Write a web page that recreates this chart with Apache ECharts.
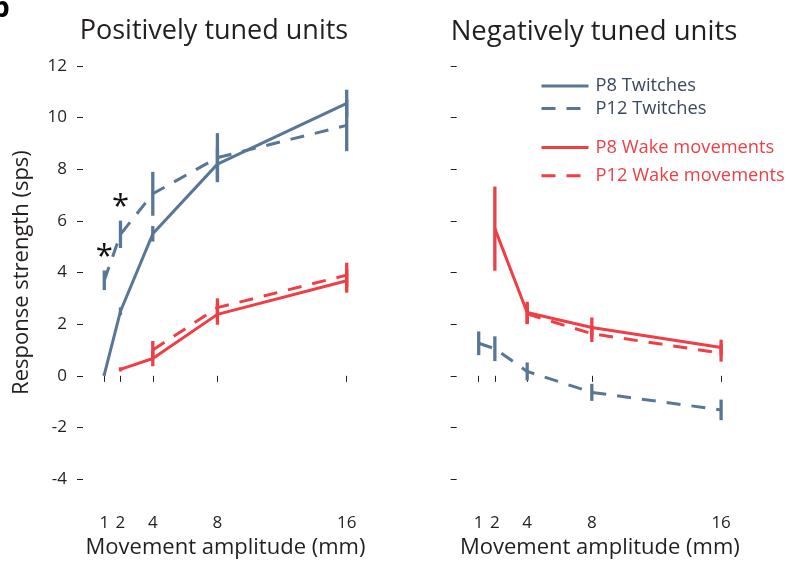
<!DOCTYPE html>
<html>
<head>
<meta charset="utf-8">
<title>Response strength by movement amplitude</title>
<script src="https://cdn.jsdelivr.net/npm/echarts@6/dist/echarts.min.js"></script>
<style>
  html, body { margin: 0; padding: 0; background: #ffffff; }
  #chart { width: 787px; height: 564px; }
</style>
</head>
<body>
<div id="chart"></div>
<script>
// Axis setup
const amplitudeTicks = [1, 2, 4, 8, 16];
const yMin = -4;
const yMax = 12;
const yStep = 2;

// Each row: [amplitude (mm), mean response (sps), SEM]
// Positively tuned units
const posP8Twitches = [[1, 0.05, 0.05], [2, 2.5, 0.15], [4, 5.5, 0.3], [8, 8.2, 0.65], [16, 10.55, 0.53]];
const posP12Twitches = [[1, 3.7, 0.38], [2, 5.48, 0.53], [4, 7.05, 0.85], [8, 8.45, 0.95], [16, 9.7, 1.0]];
const posP8Wake = [[2, 0.25, 0.08], [4, 0.67, 0.3], [8, 2.38, 0.4], [16, 3.68, 0.46]];
const posP12Wake = [[4, 1.0, 0.35], [8, 2.64, 0.36], [16, 3.9, 0.48]];

// Negatively tuned units
const negP12Twitches = [[1, 1.26, 0.46], [2, 1.05, 0.48], [4, 0.17, 0.35], [8, -0.64, 0.33], [16, -1.32, 0.4]];
const negP8Wake = [[2, 5.7, 1.63], [4, 2.45, 0.42], [8, 1.87, 0.39], [16, 1.1, 0.3]];
const negP12Wake = [[4, 2.4, 0.4], [8, 1.63, 0.32], [16, 0.88, 0.33]];

// Significance markers (P8 vs P12 twitches)
const asteriskPoints = [[1, 4.92], [2, 6.85]];

const BLUE = '#587695';
const RED = '#ee3e46';
const INK = '#231f20';
const FONT = 'Open Sans';
const DASH = [14, 11];

function lineSeries(name, data, gridIdx, color, dashed) {
  return {
    name: name,
    type: 'line',
    xAxisIndex: gridIdx,
    yAxisIndex: gridIdx,
    data: data.map(d => [d[0], d[1]]),
    symbol: 'none',
    silent: true,
    animation: false,
    lineStyle: { color: color, width: 3, type: dashed ? DASH : 'solid', cap: 'butt' },
    itemStyle: { color: color },
    z: 3
  };
}

function errorSeries(name, data, gridIdx, color) {
  return {
    name: name + ' SEM',
    type: 'custom',
    xAxisIndex: gridIdx,
    yAxisIndex: gridIdx,
    data: data,
    encode: { x: 0, y: 1 },
    silent: true,
    animation: false,
    renderItem: function (params, api) {
      const x = api.value(0), y = api.value(1), e = api.value(2);
      const hi = api.coord([x, y + e]);
      const lo = api.coord([x, y - e]);
      return {
        type: 'line',
        shape: { x1: hi[0], y1: hi[1], x2: lo[0], y2: lo[1] },
        style: { stroke: color, lineWidth: 3.3 }
      };
    },
    z: 4
  };
}

function xAxisFor(gridIdx) {
  return {
    gridIndex: gridIdx,
    type: 'value',
    min: 1,
    max: 16,
    offset: 19,
    name: 'Movement amplitude (mm)',
    nameLocation: 'middle',
    nameGap: 38,
    nameTextStyle: { fontFamily: FONT, fontSize: 22, color: INK },
    axisLine: { show: false },
    splitLine: { show: false },
    axisTick: { show: true, customValues: amplitudeTicks, length: 6, lineStyle: { color: INK, width: 1 } },
    axisLabel: { show: true, customValues: amplitudeTicks, margin: 17, fontFamily: FONT, fontSize: 17, color: INK }
  };
}

function yAxisFor(gridIdx, showLabels) {
  return {
    gridIndex: gridIdx,
    type: 'value',
    min: yMin,
    max: yMax,
    interval: yStep,
    offset: gridIdx === 0 ? 21.3 : 22,
    name: showLabels ? 'Response strength (sps)' : '',
    nameLocation: 'middle',
    nameGap: 50,
    nameTextStyle: { fontFamily: FONT, fontSize: 22, color: INK },
    axisLine: { show: false },
    splitLine: { show: false },
    axisTick: { show: true, length: 6, lineStyle: { color: INK, width: 1 } },
    axisLabel: { show: showLabels, margin: 16, fontFamily: FONT, fontSize: 17, color: INK }
  };
}

const legendCommon = {
  orient: 'vertical',
  left: 540,
  padding: 0,
  itemWidth: 47,
  itemHeight: 14,
  selectedMode: false,
  itemStyle: { color: 'transparent', borderWidth: 0, opacity: 0 },
  lineStyle: { width: 3 }
};

const chart = echarts.init(document.getElementById('chart'), null, { renderer: 'canvas' });

const option = {
  animation: false,
  backgroundColor: '#ffffff',
  textStyle: { fontFamily: FONT },
  title: [
    { text: 'Positively tuned units', left: 209, top: 13, textAlign: 'center',
      textStyle: { fontFamily: FONT, fontSize: 27, fontWeight: 'normal', color: INK } },
    { text: 'Negatively tuned units', left: 589, top: 13, textAlign: 'center',
      textStyle: { fontFamily: FONT, fontSize: 27.5, fontWeight: 'normal', color: INK } }
  ],
  legend: [
    Object.assign({}, legendCommon, {
      data: ['P8 Twitches', 'P12 Twitches'],
      top: 77,
      itemGap: 4.5,
      textStyle: { fontFamily: FONT, fontSize: 18.3, color: '#3a4a5e', padding: [0, 0, 0, 2] }
    }),
    Object.assign({}, legendCommon, {
      data: ['P8 Wake movements', 'P12 Wake movements'],
      top: 138.5,
      itemGap: 10.3,
      textStyle: { fontFamily: FONT, fontSize: 18.3, color: RED, padding: [0, 0, 0, 2] }
    })
  ],
  grid: [
    { left: 104.3, width: 242.4, top: 66, height: 416 },
    { left: 478.7, width: 242.4, top: 66, height: 416 }
  ],
  xAxis: [xAxisFor(0), xAxisFor(1)],
  yAxis: [yAxisFor(0, true), yAxisFor(1, false)],
  graphic: [
    { type: 'text', left: -8, top: -5,
      style: { text: 'b', fontFamily: FONT, fontSize: 28, fontWeight: 'bold', fill: '#000' } }
  ],
  series: [
    lineSeries('P8 Twitches', posP8Twitches, 0, BLUE, false),
    lineSeries('P12 Twitches', posP12Twitches, 0, BLUE, true),
    lineSeries('P8 Wake movements', posP8Wake, 0, RED, false),
    lineSeries('P12 Wake movements', posP12Wake, 0, RED, true),
    lineSeries('P12 Twitches', negP12Twitches, 1, BLUE, true),
    lineSeries('P8 Wake movements', negP8Wake, 1, RED, false),
    lineSeries('P12 Wake movements', negP12Wake, 1, RED, true),
    errorSeries('P8 Twitches', posP8Twitches, 0, BLUE),
    errorSeries('P12 Twitches', posP12Twitches, 0, BLUE),
    errorSeries('P8 Wake movements', posP8Wake, 0, RED),
    errorSeries('P12 Wake movements', posP12Wake, 0, RED),
    errorSeries('P12 Twitches', negP12Twitches, 1, BLUE),
    errorSeries('P8 Wake movements', negP8Wake, 1, RED),
    errorSeries('P12 Wake movements', negP12Wake, 1, RED),
    {
      name: 'significance',
      type: 'custom',
      xAxisIndex: 0,
      yAxisIndex: 0,
      data: asteriskPoints,
      encode: { x: 0, y: 1 },
      silent: true,
      renderItem: function (params, api) {
        const p = api.coord([api.value(0), api.value(1)]);
        return {
          type: 'text',
          x: p[0],
          y: p[1] + 8,
          style: {
            text: '*',
            fontFamily: FONT,
            fontSize: 31,
            fill: '#111111',
            align: 'center',
            verticalAlign: 'middle'
          }
        };
      },
      z: 5
    }
  ]
};

chart.setOption(option);
</script>
</body>
</html>
